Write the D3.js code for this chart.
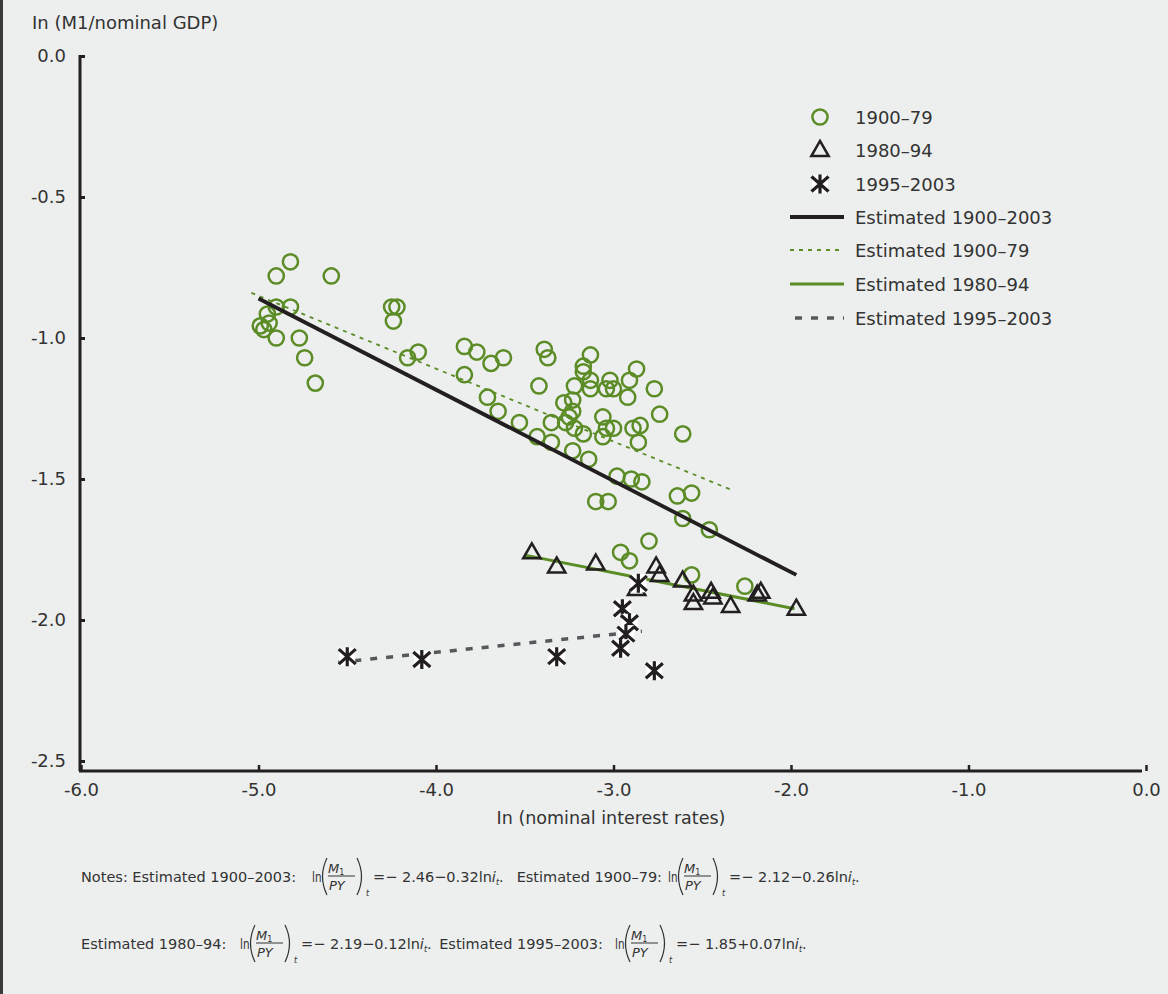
<!DOCTYPE html>
<html>
<head>
<meta charset="utf-8">
<script src="https://cdn.jsdelivr.net/npm/d3@7"></script>
<style>
  body { margin: 0; background: #edefee; }
  svg { display: block; }
  text { font-family: "DejaVu Sans", "Noto Sans", sans-serif; fill: #333; }
</style>
</head>
<body>
<script>
// ---- data ----
var xTicks = [-6, -5, -4, -3, -2, -1, 0];
var xTickLabels = ['-6.0', '-5.0', '-4.0', '-3.0', '-2.0', '-1.0', '0.0'];
var yTicks = [0, -0.5, -1, -1.5, -2, -2.5];
var yTickLabels = ['0.0', '-0.5', '-1.0', '-1.5', '-2.0', '-2.5'];

// 1900-79 observations [ln i, ln(M1/GDP)]
var obs1900_79 = [
  [-4.82, -0.73], [-4.90, -0.78], [-4.59, -0.78], [-4.90, -0.89], [-4.82, -0.89],
  [-4.95, -0.915], [-4.94, -0.947], [-4.99, -0.957], [-4.97, -0.97], [-4.90, -1.00],
  [-4.77, -1.00], [-4.74, -1.07], [-4.68, -1.16], [-4.25, -0.89], [-4.22, -0.89],
  [-4.24, -0.94], [-4.16, -1.07], [-4.10, -1.05], [-3.84, -1.03], [-3.77, -1.05],
  [-3.69, -1.09], [-3.62, -1.07], [-3.84, -1.13], [-3.39, -1.04], [-3.37, -1.07],
  [-3.13, -1.06], [-3.17, -1.10], [-2.87, -1.11], [-3.42, -1.17], [-3.17, -1.12],
  [-3.13, -1.15], [-3.22, -1.17], [-3.13, -1.18], [-3.02, -1.15], [-3.04, -1.18],
  [-3.00, -1.18], [-2.91, -1.15], [-2.92, -1.21], [-2.77, -1.18], [-3.71, -1.21],
  [-3.65, -1.26], [-3.53, -1.30], [-3.35, -1.30], [-3.28, -1.23], [-3.23, -1.22],
  [-3.23, -1.26], [-3.25, -1.28], [-3.27, -1.30], [-3.22, -1.32], [-3.17, -1.34],
  [-3.06, -1.28], [-3.04, -1.32], [-3.00, -1.32], [-3.06, -1.35], [-2.89, -1.32],
  [-2.85, -1.31], [-2.86, -1.37], [-2.74, -1.27], [-2.61, -1.34], [-3.43, -1.35],
  [-3.35, -1.37], [-3.23, -1.40], [-3.14, -1.43], [-2.98, -1.49], [-2.90, -1.50],
  [-2.84, -1.51], [-2.64, -1.56], [-2.56, -1.55], [-3.10, -1.58], [-3.03, -1.58],
  [-2.61, -1.64], [-2.46, -1.68], [-2.80, -1.72], [-2.96, -1.76], [-2.91, -1.79],
  [-2.56, -1.84], [-2.26, -1.88]
];
// 1980-94 observations
var obs1980_94 = [
  [-3.46, -1.76], [-3.32, -1.81], [-3.10, -1.80], [-2.87, -1.89], [-2.76, -1.81],
  [-2.74, -1.84], [-2.61, -1.86], [-2.55, -1.91], [-2.55, -1.94], [-2.45, -1.90],
  [-2.44, -1.92], [-2.34, -1.95], [-2.19, -1.91], [-2.17, -1.90], [-1.97, -1.96]
];
// 1995-2003 observations
var obs1995_03 = [
  [-4.50, -2.13], [-4.08, -2.14], [-3.32, -2.13], [-2.86, -1.87], [-2.95, -1.96],
  [-2.91, -2.01], [-2.93, -2.05], [-2.96, -2.10], [-2.77, -2.18]
];
// fitted lines (end points)
var fit1900_03 = [[-5.00, -0.86], [-1.97, -1.84]];
var fit1900_79 = [[-5.04, -0.84], [-2.33, -1.54]];
var fit1980_94 = [[-3.50, -1.77], [-1.98, -1.96]];
var fit1995_03 = [[-4.55, -2.15], [-2.84, -2.04]];

var legendLabels = ['1900\u201379', '1980\u201394', '1995\u20132003', 'Estimated 1900\u20132003',
  'Estimated 1900\u201379', 'Estimated 1980\u201394', 'Estimated 1995\u20132003'];

var green = '#5b8c26';
var dark = '#231f20';
var grey = '#55595b';

var svg = d3.select('body').append('svg')
    .attr('width', 1168)
    .attr('height', 994);

svg.append('rect')
    .attr('width', 1168).attr('height', 994)
    .attr('fill', '#edefee');
svg.append('rect')
    .attr('x', 0).attr('y', 0).attr('width', 3).attr('height', 994)
    .attr('fill', '#3a3a3a');

var x = d3.scaleLinear().domain([-6, 0]).range([81, 1146]);
var y = d3.scaleLinear().domain([0, -2.5]).range([56, 761]);
var axisY = 771;

// y axis
var yAxis = svg.append('g')
    .attr('transform', 'translate(80,0)')
    .call(d3.axisLeft(y).tickValues(yTicks)
        .tickFormat(function(d, i) { return yTickLabels[i]; })
        .tickSize(-5).tickPadding(14));
yAxis.select('.domain').remove();
yAxis.selectAll('.tick line').attr('stroke', dark).attr('stroke-width', 3);
yAxis.selectAll('.tick text').style('font-size', '18px').attr('fill', '#333');
svg.append('line')
    .attr('x1', 80).attr('x2', 80)
    .attr('y1', y(0) - 1).attr('y2', axisY)
    .attr('stroke', dark).attr('stroke-width', 3);

// x axis
var xAxis = svg.append('g')
    .attr('transform', 'translate(0,' + axisY + ')')
    .call(d3.axisBottom(x).tickValues(xTicks)
        .tickFormat(function(d, i) { return xTickLabels[i]; })
        .tickSize(-6).tickPadding(12));
xAxis.select('.domain').remove();
xAxis.selectAll('.tick line').attr('stroke', dark).attr('stroke-width', 2.5);
xAxis.selectAll('.tick text').style('font-size', '18px').attr('fill', '#333');
svg.append('line')
    .attr('x1', 79).attr('x2', 1142)
    .attr('y1', axisY).attr('y2', axisY)
    .attr('stroke', dark).attr('stroke-width', 3);

svg.append('text')
    .attr('x', 32).attr('y', 29)
    .style('font-size', '18px')
    .text('In (M1/nominal GDP)');
svg.append('text')
    .attr('x', 611).attr('y', 824)
    .attr('text-anchor', 'middle')
    .style('font-size', '17.5px')
    .text('In (nominal interest rates)');

// fitted lines
var line = d3.line().x(function(d) { return x(d[0]); }).y(function(d) { return y(d[1]); });
svg.append('path').datum(fit1900_79)
    .attr('d', line).attr('fill', 'none')
    .attr('stroke', green).attr('stroke-width', 1.8).attr('stroke-dasharray', '4,5');

// markers: circles
svg.append('g').selectAll('circle')
    .data(obs1900_79)
    .enter().append('circle')
    .attr('cx', function(d) { return x(d[0]); })
    .attr('cy', function(d) { return y(d[1]); })
    .attr('r', 7.6)
    .attr('fill', 'none')
    .attr('stroke', green)
    .attr('stroke-width', 2.5);

svg.append('path').datum(fit1900_03)
    .attr('d', line).attr('fill', 'none')
    .attr('stroke', dark).attr('stroke-width', 3.8);
svg.append('path').datum(fit1980_94)
    .attr('d', line).attr('fill', 'none')
    .attr('stroke', green).attr('stroke-width', 3);

var tri = d3.symbol().type(d3.symbolTriangle).size(130);
svg.append('g').selectAll('path')
    .data(obs1980_94)
    .enter().append('path')
    .attr('d', tri)
    .attr('transform', function(d) { return 'translate(' + x(d[0]) + ',' + (y(d[1]) + 1) + ')'; })
    .attr('fill', 'none')
    .attr('stroke', dark)
    .attr('stroke-width', 2.5)
    .attr('stroke-linejoin', 'miter');

svg.append('path').datum(fit1995_03)
    .attr('d', line).attr('fill', 'none')
    .attr('stroke', grey).attr('stroke-width', 3.5).attr('stroke-dasharray', '7,9');

var starPath = 'M0,-9.5V9.5M-8.5,-7.5L8.5,7.5M-8.5,7.5L8.5,-7.5';
function drawStar(g) {
  g.append('rect')
      .attr('x', -8).attr('y', -9).attr('width', 16).attr('height', 18)
      .attr('fill', '#fff');
  g.append('path')
      .attr('d', starPath)
      .attr('stroke', dark)
      .attr('stroke-width', 3.2)
      .attr('fill', 'none');
}
svg.append('g').selectAll('g')
    .data(obs1995_03)
    .enter().append('g')
    .attr('transform', function(d) { return 'translate(' + x(d[0]) + ',' + y(d[1]) + ')'; })
    .each(function() { drawStar(d3.select(this)); });

// legend
var legY = [117, 150, 184, 217, 250, 284, 318];
var leg = svg.append('g');
leg.append('circle').attr('cx', 820).attr('cy', legY[0]).attr('r', 7.6)
    .attr('fill', 'none').attr('stroke', green).attr('stroke-width', 2.5);
leg.append('path').attr('d', tri)
    .attr('transform', 'translate(820,' + (legY[1] + 1) + ')')
    .attr('fill', 'none').attr('stroke', dark).attr('stroke-width', 2.5);
drawStar(leg.append('g').attr('transform', 'translate(820,' + legY[2] + ')'));
leg.append('line').attr('x1', 790).attr('x2', 844).attr('y1', legY[3]).attr('y2', legY[3])
    .attr('stroke', dark).attr('stroke-width', 3.8);
leg.append('line').attr('x1', 790).attr('x2', 844).attr('y1', legY[4]).attr('y2', legY[4])
    .attr('stroke', green).attr('stroke-width', 1.8).attr('stroke-dasharray', '4,5');
leg.append('line').attr('x1', 790).attr('x2', 844).attr('y1', legY[5]).attr('y2', legY[5])
    .attr('stroke', green).attr('stroke-width', 3);
leg.append('line').attr('x1', 795).attr('x2', 844).attr('y1', legY[6]).attr('y2', legY[6])
    .attr('stroke', grey).attr('stroke-width', 3.5).attr('stroke-dasharray', '7,9');
leg.selectAll('text.lab')
    .data(legendLabels)
    .enter().append('text')
    .attr('class', 'lab')
    .attr('x', 855)
    .attr('y', function(d, i) { return legY[i] + 6.5; })
    .style('font-size', '18px')
    .text(function(d) { return d; });

// notes with ln(M1/PY)_t fractions
var noteSize = '14.5px';
function plain(xp, yp, str, anchor) {
  return svg.append('text').attr('x', xp).attr('y', yp)
      .attr('text-anchor', anchor || 'start')
      .style('font-size', noteSize).text(str);
}
function lnFrac(lx, b) {
  plain(lx, b, 'ln').attr('textLength', 9.5).attr('lengthAdjust', 'spacingAndGlyphs');
  svg.append('path')
      .attr('d', 'M' + (lx + 15) + ',' + (b - 24) + 'Q' + (lx + 6) + ',' + (b - 5.5) + ' ' + (lx + 15) + ',' + (b + 13))
      .attr('fill', 'none').attr('stroke', '#333').attr('stroke-width', 1.2);
  svg.append('path')
      .attr('d', 'M' + (lx + 45) + ',' + (b - 24) + 'Q' + (lx + 54) + ',' + (b - 5.5) + ' ' + (lx + 45) + ',' + (b + 13))
      .attr('fill', 'none').attr('stroke', '#333').attr('stroke-width', 1.2);
  var m = svg.append('text').attr('x', lx + 16).attr('y', b - 9)
      .style('font-size', '13px').style('font-style', 'italic').text('M');
  m.append('tspan').attr('dy', 2).style('font-size', '8px').style('font-style', 'normal').text('1');
  svg.append('line')
      .attr('x1', lx + 16).attr('x2', lx + 43)
      .attr('y1', b - 6).attr('y2', b - 6)
      .attr('stroke', '#333').attr('stroke-width', 1);
  svg.append('text').attr('x', lx + 17).attr('y', b + 8)
      .style('font-size', '13px').style('font-style', 'italic').text('PY');
  svg.append('text').attr('x', lx + 54).attr('y', b + 14)
      .style('font-size', '8px').style('font-style', 'italic').text('t');
}
function eqn(xp, b, str) {
  var t = plain(xp, b, str);
  t.append('tspan').style('font-style', 'italic').text('i');
  t.append('tspan').attr('dy', 3).style('font-size', '8px').style('font-style', 'italic').text('t');
  t.append('tspan').attr('dy', -3).text('.');
}

var b1 = 882, b2 = 949;
plain(81, b1, 'Notes: Estimated 1900\u20132003:');
lnFrac(312, b1);
eqn(373, b1, '=\u2212 2.46\u22120.32ln');
plain(662, b1, 'Estimated 1900\u201379:', 'end');
lnFrac(668, b1);
eqn(729, b1, '=\u2212 2.12\u22120.26ln');

plain(81, b2, 'Estimated 1980\u201394:');
lnFrac(240, b2);
eqn(301, b2, '=\u2212 2.19\u22120.12ln');
plain(603, b2, 'Estimated 1995\u20132003:', 'end');
lnFrac(615, b2);
eqn(676, b2, '=\u2212 1.85+0.07ln');
</script>
</body>
</html>
